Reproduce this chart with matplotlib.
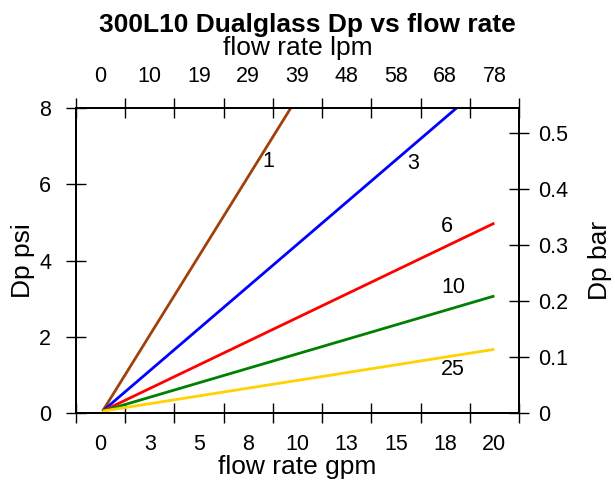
import matplotlib
matplotlib.use("Agg")
import matplotlib.pyplot as plt

# filter ratings and pressure drop (psi) at 20 gpm, lines start near the origin
ratings = ["1", "3", "6", "10", "25"]
flow_gpm = [0.1, 20]
dp_start = 0.05
dp_at_20 = [16.6, 8.85, 4.98, 3.07, 1.67]
colors = ["#a0400a", "#0000ff", "#ff0000", "#008000", "#ffd200"]

# label anchor spots for each curve (gpm, psi)
label_x = [8.5, 15.9, 17.6, 17.9, 17.9]
label_y = [6.6, 6.55, 4.9, 3.3, 1.15]

gpm_labels = ["0", "3", "5", "8", "10", "13", "15", "18", "20"]
lpm_labels = ["0", "10", "19", "29", "39", "48", "58", "68", "78"]
gpm_centers = [0, 2.5, 5, 7.5, 10, 12.5, 15, 17.5, 20]
bar_ticks = [0, 0.1, 0.2, 0.3, 0.4, 0.5]
psi_ticks = [0, 2, 4, 6, 8]

plt.rcParams['font.family'] = ['Liberation Sans', 'DejaVu Sans']

fig = plt.figure(figsize=(6.15, 4.83), dpi=100)
ax = fig.add_axes([0.1236, 0.1449, 0.7203, 0.6315])

for r, y1, c in zip(ratings, dp_at_20, colors):
    ax.plot(flow_gpm, [dp_start, y1], color=c, lw=2, solid_capstyle='butt')
for r, lx, ly in zip(ratings, label_x, label_y):
    ax.text(lx, ly, r, fontsize=15.5, ha='center', va='center')

xmin, xmax = -1.25, 21.25
ax.set_xlim(xmin, xmax)
ax.set_ylim(0, 8)

# major ticks at interval edges, labels on the interval centres
edges = [xmin + 2.5 * k for k in range(10)]
ax.set_xticks(edges)
ax.set_xticklabels([])
ax.set_xticks(gpm_centers, minor=True)
ax.set_xticklabels(gpm_labels, minor=True)
ax.tick_params(axis='x', which='major', direction='inout', length=14, width=1)
ax.tick_params(axis='x', which='minor', length=0, labelsize=15.5, pad=15)

ax.set_yticks(psi_ticks)
ax.set_yticklabels([str(v) for v in psi_ticks])
ax.tick_params(axis='y', direction='inout', length=14, width=1, labelsize=15.5, pad=11)

ax.set_xlabel("flow rate gpm", fontsize=19, labelpad=0)
ax.set_ylabel("Dp psi", fontsize=19, labelpad=3)

# top axis: lpm
axt = ax.twiny()
axt.set_xlim(xmin, xmax)
axt.set_xticks(edges)
axt.set_xticklabels([])
axt.set_xticks(gpm_centers, minor=True)
axt.set_xticklabels(lpm_labels, minor=True)
axt.tick_params(axis='x', which='major', direction='inout', length=14, width=1)
axt.tick_params(axis='x', which='minor', length=0, labelsize=15.5, pad=15)
axt.set_xlabel("flow rate lpm", fontsize=19, labelpad=8)

# right axis: bar
axr = ax.twinx()
axr.set_ylim(0, 8 / 14.7)
axr.set_yticks(bar_ticks)
axr.set_yticklabels(["0", "0.1", "0.2", "0.3", "0.4", "0.5"])
axr.tick_params(axis='y', direction='inout', length=14, width=1, labelsize=15.5, pad=7)
axr.set_ylabel("Dp bar", fontsize=19, labelpad=14)

for a in (ax, axt, axr):
    for s in a.spines.values():
        s.set_linewidth(1.2)

fig.text(0.5, 0.948, "300L10 Dualglass Dp vs flow rate", fontsize=19,
         fontweight='bold', ha='center', va='center')

fig.savefig("out.png", dpi=100)
